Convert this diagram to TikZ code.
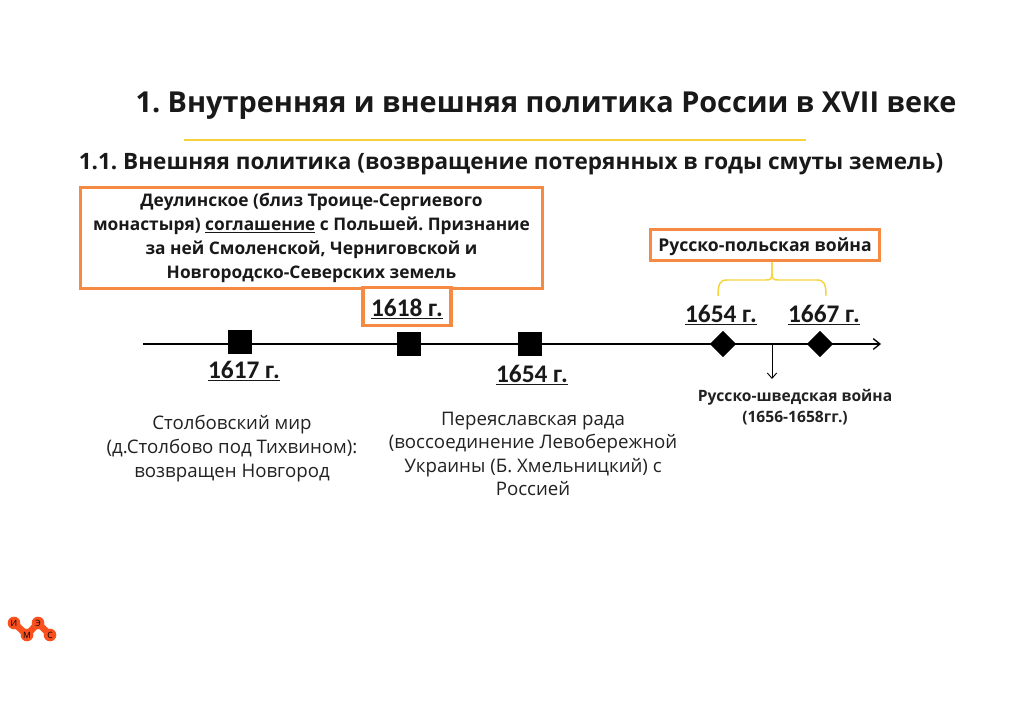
\documentclass[tikz,border=0pt]{standalone}
\usepackage{fontspec}
\setmainfont{Open Sans}
\newfontfamily\datefont{Carlito}
\usetikzlibrary{arrows.meta,shapes.geometric}
\definecolor{imsorange}{HTML}{F58A42}
\definecolor{imsyellow}{HTML}{F6D33C}
\definecolor{logoorange}{HTML}{F9501E}
\definecolor{bodygray}{HTML}{222222}
\tikzset{
  x=0.75pt,y=-0.75pt,
  titletext/.style={font=\fontsize{21.65}{27}\selectfont\bfseries,text=black!90,inner sep=0,anchor=center},
  subtext/.style={font=\fontsize{16.9}{22}\selectfont\bfseries,text=black!90,inner sep=0,anchor=center},
  callout/.style={draw=imsorange,line width=2.4pt,fill=white,align=center,inner sep=0,font=\fontsize{13}{18.2}\selectfont\bfseries,text=black!90},
  datelabel/.style={font=\datefont\fontsize{19}{21}\selectfont\bfseries,inner sep=0,text=black!90},
  bodytext/.style={font=\fontsize{14}{17.7}\selectfont,align=center,inner sep=0,text=bodygray},
  smalltext/.style={font=\fontsize{11.7}{15.8}\selectfont\bfseries,align=center,inner sep=0,text=bodygray},
  sqmark/.style={fill=black,minimum size=18pt,inner sep=0},
  diamark/.style={diamond,fill=black,minimum size=20pt,inner sep=0},
  axisline/.style={line width=1pt,-{Straight Barb[length=5pt,width=8pt]}},
  bracket/.style={draw=imsyellow,line width=1.1pt},
  logodot/.style={circle,fill=logoorange,minimum size=9.5pt,inner sep=0,font=\fontsize{6.5}{7}\selectfont,text=black},
}
\begin{document}
\frenchspacing
\begin{tikzpicture}
\useasboundingbox (0,0) rectangle (1024,724);
\fill[white] (0,0) rectangle (1024,724);
\node[titletext] (title) at (546,106) {1. Внутренняя и внешняя политика России в XVII веке};
\coordinate (ruleL) at (184,140);
\coordinate (ruleR) at (806,140);
\draw[imsyellow,line width=0.8pt] (ruleL) -- (ruleR);
\node[subtext] (subtitle) at (511,164) {1.1. Внешняя политика (возвращение потерянных в годы смуты земель)};
\coordinate (axisL) at (143,344);
\coordinate (axisR) at (881,344);
\draw[axisline] (axisL) -- (axisR);
\node[callout,minimum width=346pt,minimum height=76pt] (deulino) at (311.5,238) {Деулинское (близ Троице-Сергиевого\\монастыря) \underline{соглашение} с Польшей. Признание\\за ней Смоленской, Черниговской и\\Новгородско-Северских земель};
\node[draw=imsorange,line width=2.4pt,fill=white,minimum width=66pt,minimum height=28pt,inner sep=0] (box1618) at (407,306.5) {};
\node[datelabel] (d1618) at (407,309) {\underline{1618 г.}};
\node[sqmark] (m1617) at (240,342) {};
\node[sqmark] (m1618) at (409,344) {};
\node[sqmark] (m1654) at (530,344) {};
\node[diamark] (w1654) at (723,344) {};
\node[diamark] (w1667) at (820,344) {};
\node[datelabel] (d1617) at (244,371) {\underline{1617 г.}};
\node[datelabel] (d1654) at (532,375) {\underline{1654 г.}};
\node[datelabel] (t1654) at (721,315) {\underline{1654 г.}};
\node[datelabel] (t1667) at (824,315) {\underline{1667 г.}};
\node[callout,minimum width=172pt,minimum height=23pt,text height=12.5pt,font=\fontsize{13.2}{16}\selectfont\bfseries] (rpw) at (765,245) {Русско-польская война};
\node[bodytext] (stolbovo) at (232,448.5) {Столбовский мир\\(д.Столбово под Тихвином):\\возвращен Новгород};
\node[bodytext] (pereyaslav) at (533,454) {Переяславская рада\\(воссоединение Левобережной\\Украины (Б. Хмельницкий) с\\Россией};
\coordinate (brJoin) at (772,280);
\coordinate (brL) at (718,296);
\coordinate (brR) at (826,296);
\draw[bracket] (rpw.south -| brJoin) -- ++(0,12) .. controls (772,279) and (770,280) .. (766,280) -- (727,280) .. controls (720,280) and (718,284) .. (brL);
\draw[bracket] (rpw.south -| brJoin) -- ++(0,12) .. controls (772,279) and (774,280) .. (778,280) -- (817,280) .. controls (824,280) and (826,284) .. (brR);
\node[smalltext] (swedish) at (795,407) {Русско-шведская война\\(1656-1658гг.)};
\coordinate (warTick) at (772,344);
\coordinate (warTip) at (772,379);
\draw[line width=0.7pt,-{Straight Barb[length=4pt,width=7pt]}] (warTick) -- (warTip);
% logo
\coordinate (lc1) at (14,623);
\coordinate (lc2) at (27,635);
\coordinate (lc3) at (38,623);
\coordinate (lc4) at (50,635);
\draw[logoorange,line width=5pt,line join=round] (lc1) -- (lc2) -- (lc3) -- (lc4);
\node[logodot] (li) at (lc1) {И};
\node[logodot] (lm) at (lc2) {М};
\node[logodot] (le) at (lc3) {Э};
\node[logodot] (ls) at (lc4) {С};
\end{tikzpicture}
\end{document}
